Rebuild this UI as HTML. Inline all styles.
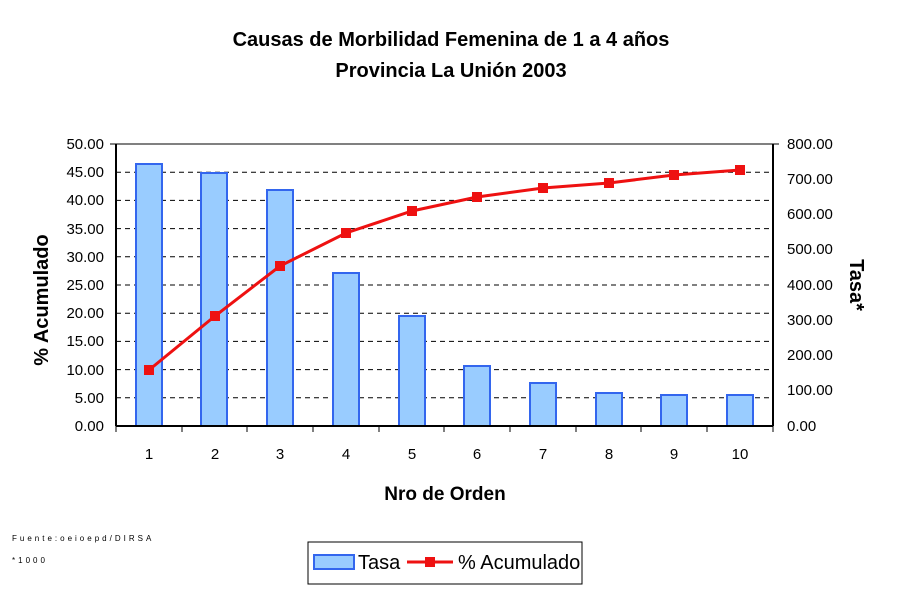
<!DOCTYPE html>
<html><head><meta charset="utf-8"><style>
body{margin:0;background:#fff;width:900px;height:600px;overflow:hidden}
</style></head><body>
<svg width="900" height="600" xmlns="http://www.w3.org/2000/svg" font-family="Liberation Sans, Arial, sans-serif">
<text x="451" y="46" font-size="20" font-weight="bold" text-anchor="middle">Causas de Morbilidad Femenina de 1 a 4 años</text>
<text x="451" y="77" font-size="20" font-weight="bold" text-anchor="middle">Provincia La Unión 2003</text>
<line x1="116" y1="144" x2="773" y2="144" stroke="#808080" stroke-width="2"/>
<g stroke="#000" stroke-dasharray="5,4" stroke-width="1">
<line x1="116" y1="172.2" x2="773" y2="172.2"/><line x1="116" y1="200.4" x2="773" y2="200.4"/>
<line x1="116" y1="228.6" x2="773" y2="228.6"/><line x1="116" y1="256.8" x2="773" y2="256.8"/>
<line x1="116" y1="285" x2="773" y2="285"/><line x1="116" y1="313.2" x2="773" y2="313.2"/>
<line x1="116" y1="341.4" x2="773" y2="341.4"/><line x1="116" y1="369.6" x2="773" y2="369.6"/>
<line x1="116" y1="397.8" x2="773" y2="397.8"/>
</g>
<g fill="#99ccff" stroke="#3366ee" stroke-width="2">
<rect x="136" y="164" width="26" height="262"/><rect x="201" y="173" width="26" height="253"/>
<rect x="267" y="190" width="26" height="236"/><rect x="333" y="273" width="26" height="153"/>
<rect x="399" y="316" width="26" height="110"/><rect x="464" y="366" width="26" height="60"/>
<rect x="530" y="383" width="26" height="43"/><rect x="596" y="393" width="26" height="33"/>
<rect x="661" y="395" width="26" height="31"/><rect x="727" y="395" width="26" height="31"/>
</g>
<g stroke="#000" stroke-width="2"><line x1="116" y1="144" x2="116" y2="426"/><line x1="773" y1="144" x2="773" y2="426"/><line x1="116" y1="426" x2="773" y2="426"/></g>
<g stroke="#000" stroke-width="1">
<line x1="182" y1="426" x2="182" y2="432"/><line x1="247" y1="426" x2="247" y2="432"/><line x1="313" y1="426" x2="313" y2="432"/><line x1="379" y1="426" x2="379" y2="432"/><line x1="444" y1="426" x2="444" y2="432"/><line x1="510" y1="426" x2="510" y2="432"/><line x1="576" y1="426" x2="576" y2="432"/><line x1="641" y1="426" x2="641" y2="432"/><line x1="707" y1="426" x2="707" y2="432"/><line x1="773" y1="426" x2="773" y2="432"/><line x1="116" y1="426" x2="116" y2="432"/>
<line x1="110" y1="144" x2="116" y2="144"/><line x1="773" y1="144" x2="779" y2="144"/>
</g>
<polyline fill="none" stroke="#ee1111" stroke-width="3" points="149,370 215,316 280,266 346,233 412,211 477,197 543,188 609,183 674,175 740,170"/>
<g fill="#ee1111">
<rect x="144" y="365" width="10" height="10"/><rect x="210" y="311" width="10" height="10"/><rect x="275" y="261" width="10" height="10"/><rect x="341" y="228" width="10" height="10"/><rect x="407" y="206" width="10" height="10"/><rect x="472" y="192" width="10" height="10"/><rect x="538" y="183" width="10" height="10"/><rect x="604" y="178" width="10" height="10"/><rect x="669" y="170" width="10" height="10"/><rect x="735" y="165" width="10" height="10"/>
</g>
<g font-size="15" text-anchor="end">
<text x="104" y="149">50.00</text><text x="104" y="177">45.00</text><text x="104" y="205">40.00</text><text x="104" y="234">35.00</text><text x="104" y="262">30.00</text><text x="104" y="290">25.00</text><text x="104" y="318">20.00</text><text x="104" y="346">15.00</text><text x="104" y="375">10.00</text><text x="104" y="403">5.00</text><text x="104" y="431">0.00</text>
</g>
<g font-size="15" text-anchor="start">
<text x="787" y="149">800.00</text><text x="787" y="184">700.00</text><text x="787" y="219">600.00</text><text x="787" y="254">500.00</text><text x="787" y="290">400.00</text><text x="787" y="325">300.00</text><text x="787" y="360">200.00</text><text x="787" y="395">100.00</text><text x="787" y="431">0.00</text>
</g>
<g font-size="15" text-anchor="middle">
<text x="149" y="459">1</text><text x="215" y="459">2</text><text x="280" y="459">3</text><text x="346" y="459">4</text><text x="412" y="459">5</text><text x="477" y="459">6</text><text x="543" y="459">7</text><text x="609" y="459">8</text><text x="674" y="459">9</text><text x="740" y="459">10</text>
</g>
<text x="445" y="500" font-size="19" font-weight="bold" text-anchor="middle">Nro de Orden</text>
<text transform="translate(48,300) rotate(-90)" font-size="20" font-weight="bold" text-anchor="middle">% Acumulado</text>
<text transform="translate(850,285) rotate(90)" font-size="20" font-weight="bold" text-anchor="middle">Tasa*</text>
<text x="12" y="541" font-size="8" letter-spacing="3">Fuente:oeioepd/DIRSA</text>
<text x="12" y="563" font-size="8" letter-spacing="3">*1000</text>
<rect x="308" y="542" width="274" height="42" fill="#fff" stroke="#000" stroke-width="1"/>
<rect x="314" y="555" width="40" height="14" fill="#99ccff" stroke="#3366ee" stroke-width="2"/>
<text x="358" y="569" font-size="20">Tasa</text>
<line x1="407" y1="562" x2="453" y2="562" stroke="#ee1111" stroke-width="3"/>
<rect x="425" y="557" width="10" height="10" fill="#ee1111"/>
<text x="458" y="569" font-size="20">% Acumulado</text>
</svg>
</body></html>
